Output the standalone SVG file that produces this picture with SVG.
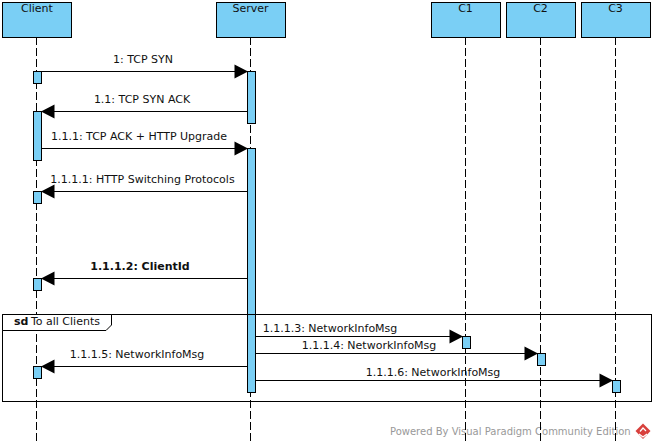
<svg xmlns="http://www.w3.org/2000/svg" width="655" height="448" viewBox="0 0 655 448">
<style>
text{font-family:"DejaVu Sans",sans-serif;font-size:11px;fill:#111}
.c{text-anchor:middle}
.b{fill:#7acff5;stroke:#000;stroke-width:1}
.l{stroke:#000;stroke-width:1;stroke-dasharray:8 3;fill:none}
.m{stroke:#000;stroke-width:1;fill:none}
.h{fill:#000;stroke:none}
</style>
<defs>
<path id="ar" class="h" d="M0.500,0L-13,-7L-13,7Z"/>
<path id="al" class="h" d="M-0.500,0L13,-7L13,7Z"/>
</defs>
<rect width="655" height="448" fill="#fff"/>
<g id="watermark">
<text x="390" y="435" style="fill:#999;font-size:10px">Powered By Visual Paradigm Community Edition</text>
<path fill="#d8403c" d="M643,423.500L650.500,431L643,439L635.500,431Z"/>
<path fill="none" stroke="#fff" stroke-width="1.200" d="M640,431.500L643,428L646,431M639,434L643,437L647,434"/>
</g>
<g id="lifelines">
<path class="l" d="M36.500,37V442M250.500,37V442M465.500,37V442M540.500,37V442M615.500,37V442"/>
</g>
<g id="client"><rect class="b" x="2.500" y="2.500" width="69" height="35"/><text class="c" x="37" y="12">Client</text></g>
<g id="server"><rect class="b" x="216.500" y="2.500" width="69" height="35"/><text class="c" x="250.500" y="12">Server</text></g>
<g id="c1"><rect class="b" x="431.500" y="2.500" width="69" height="35"/><text class="c" x="465.500" y="12">C1</text></g>
<g id="c2"><rect class="b" x="506.500" y="2.500" width="69" height="35"/><text class="c" x="540.500" y="12">C2</text></g>
<g id="c3"><rect class="b" x="581.500" y="2.500" width="69" height="35"/><text class="c" x="615.500" y="12">C3</text></g>
<g id="activations">
<rect class="b" x="33.500" y="71.500" width="8" height="12"/>
<rect class="b" x="33.500" y="111.500" width="8" height="49"/>
<rect class="b" x="33.500" y="191.500" width="8" height="12"/>
<rect class="b" x="33.500" y="278.500" width="8" height="12"/>
<rect class="b" x="33.500" y="366.500" width="8" height="12"/>
<rect class="b" x="247.500" y="71.500" width="8" height="52"/>
<rect class="b" x="247.500" y="148.500" width="8" height="244"/>
<rect class="b" x="462.500" y="336.500" width="8" height="12"/>
<rect class="b" x="537.500" y="353.500" width="8" height="12"/>
<rect class="b" x="612.500" y="380.500" width="8" height="12"/>
</g>
<g id="frame">
<rect class="m" x="2.500" y="314.500" width="649" height="87"/>
<path d="M2.500,330.500H106L111.500,325V314.500H2.500Z" fill="#fff" stroke="#000"/>
<text x="14" y="325"><tspan font-weight="bold">sd</tspan><tspan dx="-1"> To all Clients</tspan></text>
</g>
<g id="connectors">
<path class="m" d="M41.500,71.500H236M247.500,111.500H52M41.500,148.500H236M247.500,191.500H52M247.500,278.500H52M255.500,336.500H451M255.500,353.500H526M247.500,366.500H52M255.500,380.500H601"/>
<use href="#ar" x="247.500" y="71.500"/>
<use href="#al" x="41.500" y="111.500"/>
<use href="#ar" x="247.500" y="148.500"/>
<use href="#al" x="41.500" y="191.500"/>
<use href="#al" x="41.500" y="278.500"/>
<use href="#ar" x="462.500" y="336.500"/>
<use href="#ar" x="537.500" y="353.500"/>
<use href="#al" x="41.500" y="366.500"/>
<use href="#ar" x="612.500" y="380.500"/>
</g>
<g id="labels">
<text class="c" x="143" y="63">1: TCP SYN</text>
<text class="c" x="142" y="103">1.1: TCP SYN ACK</text>
<text class="c" x="139" y="140">1.1.1: TCP ACK + HTTP Upgrade</text>
<text class="c" x="142.500" y="183">1.1.1.1: HTTP Switching Protocols</text>
<text class="c" x="140" y="270" font-weight="bold">1.1.1.2: ClientId</text>
<text class="c" x="330" y="332">1.1.1.3: NetworkInfoMsg</text>
<text class="c" x="369" y="349">1.1.1.4: NetworkInfoMsg</text>
<text class="c" x="137" y="358">1.1.1.5: NetworkInfoMsg</text>
<text class="c" x="433" y="376">1.1.1.6: NetworkInfoMsg</text>
</g>
</svg>
